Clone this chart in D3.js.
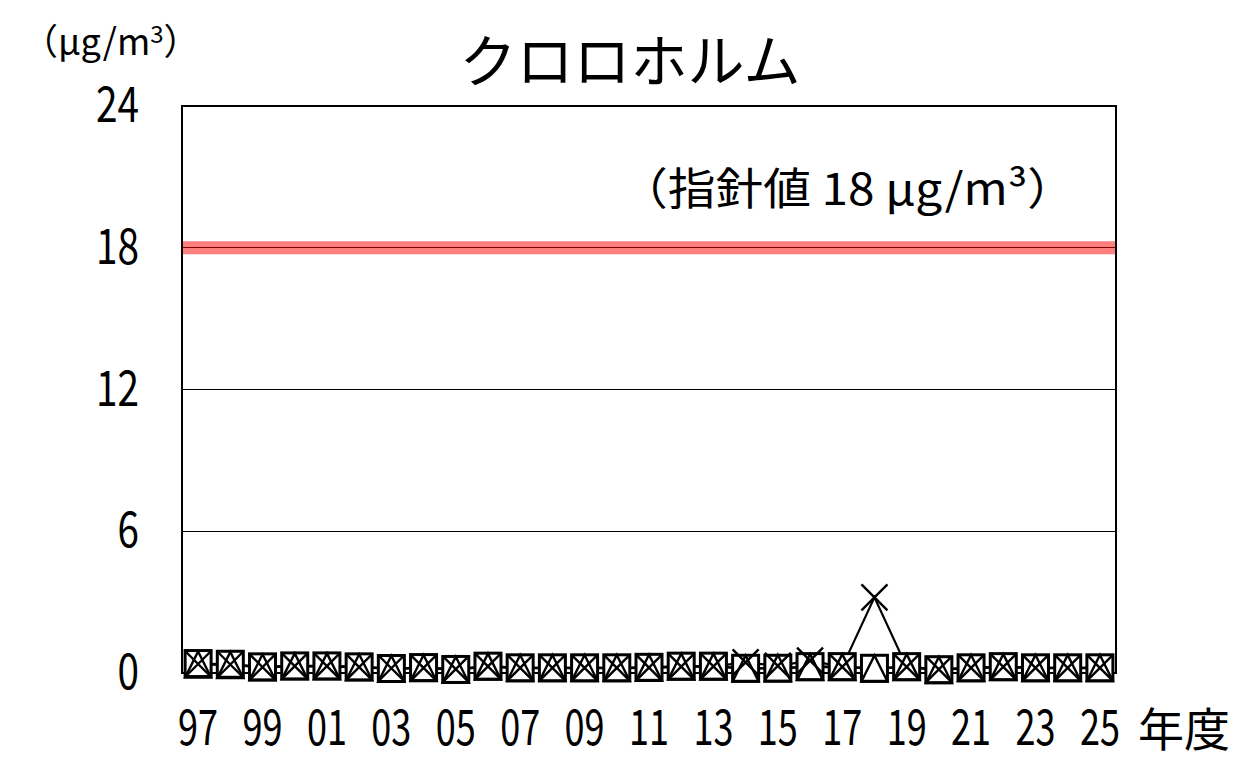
<!DOCTYPE html>
<html>
<head>
<meta charset="utf-8">
<script src="https://cdn.jsdelivr.net/npm/d3@7"></script>
<style>
  body { margin: 0; background: #fff; }
  svg text { font-family: "Noto Sans CJK JP", "Noto Sans", sans-serif; fill: #000; }
</style>
</head>
<body>
<svg id="chart" width="1251" height="781"></svg>
<script>
'use strict';

// fiscal years on the x axis
var years = [1997, 1998, 1999, 2000, 2001, 2002, 2003, 2004, 2005, 2006,
             2007, 2008, 2009, 2010, 2011, 2012, 2013, 2014, 2015, 2016,
             2017, 2018, 2019, 2020, 2021, 2022, 2023, 2024, 2025]

// three monitoring series (µg/m3)
var squareSeries = [0.40, 0.37, 0.26, 0.30, 0.30, 0.26, 0.19, 0.23, 0.15, 0.29,
                    0.22, 0.22, 0.22, 0.22, 0.24, 0.29, 0.29, 0.20, 0.20, 0.27,
                    0.27, 0.20, 0.27, 0.14, 0.22, 0.27, 0.22, 0.22, 0.22]
var crossSeries  = [0.38, 0.36, 0.25, 0.29, 0.29, 0.25, 0.20, 0.22, 0.16, 0.28,
                    0.22, 0.22, 0.22, 0.22, 0.23, 0.27, 0.28, 0.45, 0.30, 0.52,
                    0.26, 3.2, 0.26, 0.15, 0.22, 0.26, 0.22, 0.22, 0.22]
var triangleSeries = [0.36, 0.34, 0.24, 0.28, 0.28, 0.24, 0.18, 0.21, 0.14, 0.27,
                      0.21, 0.21, 0.21, 0.21, 0.22, 0.27, 0.27, 0.19, 0.21, 0.25,
                      0.25, 0.19, 0.25, 0.13, 0.21, 0.25, 0.21, 0.21, 0.21]

var yTicks = [0, 6, 12, 18, 24]
,   guideValue = 18
,   titleText = 'クロロホルム'
,   guideText = '（指針値 18 µg/m³）'
,   xAxisTitle = '年度'

var plot = { left: 182, top: 106, right: 1116, bottom: 673 }

var svg = d3.select('#chart')

var x = d3.scaleBand().domain(years).range([plot.left, plot.right]).padding(0)
,   y = d3.scaleLinear().domain([0, 24]).range([plot.bottom, plot.top])
,   cx = (d) => x(d) + x.bandwidth() / 2

// gridlines
svg.append('g')
  .selectAll('line')
  .data(yTicks.filter((t) => t > 0 && t < 24))
  .enter().append('line')
  .attr('x1', plot.left).attr('x2', plot.right)
  .attr('y1', (d) => y(d)).attr('y2', (d) => y(d))
  .attr('stroke', '#000')
  .attr('stroke-width', 1)
  .attr('shape-rendering', 'crispEdges')

// guideline band
svg.append('line')
  .attr('x1', plot.left).attr('x2', plot.right)
  .attr('y1', y(guideValue)).attr('y2', y(guideValue))
  .attr('stroke', '#ff0000')
  .attr('stroke-opacity', 0.5)
  .attr('stroke-width', 13)

// frame
svg.append('rect')
  .attr('x', plot.left).attr('y', plot.top)
  .attr('width', plot.right - plot.left).attr('height', plot.bottom - plot.top)
  .attr('fill', 'none')
  .attr('stroke', '#000')
  .attr('stroke-width', 2)

// y axis
var yAxis = svg.append('g')
  .attr('transform', 'translate(' + plot.left + ',0)')
  .call(d3.axisLeft(y).tickValues(yTicks).tickSize(0).tickPadding(43))

yAxis.select('.domain').remove()
yAxis.selectAll('text')
  .attr('font-size', 49)
  .attr('font-family', '"Noto Sans CJK JP", sans-serif')
  .attr('textLength', (d) => String(d).length * 21.5)
  .attr('lengthAdjust', 'spacingAndGlyphs')

// x axis
var xAxis = svg.append('g')
  .attr('transform', 'translate(0,' + plot.bottom + ')')
  .call(d3.axisBottom(x)
    .tickSize(0)
    .tickPadding(37)
    .tickFormat((d, i) => i % 2 === 0 ? String(d).slice(2) : ''))

xAxis.select('.domain').remove()
xAxis.selectAll('text')
  .attr('font-size', 49)
  .attr('font-family', '"Noto Sans CJK JP", sans-serif')
  .filter(function() { return this.textContent !== '' })
  .attr('textLength', 40)
  .attr('lengthAdjust', 'spacingAndGlyphs')

// series lines
var line = d3.line()
  .x((d, i) => cx(years[i]))
  .y((d) => y(d))

var seriesList = [squareSeries, crossSeries, triangleSeries]

svg.append('g')
  .selectAll('path')
  .data(seriesList)
  .enter().append('path')
  .attr('d', line)
  .attr('fill', 'none')
  .attr('stroke', '#000')
  .attr('stroke-width', 2.2)

// markers
var half = 13

svg.append('g')
  .selectAll('rect')
  .data(squareSeries)
  .enter().append('rect')
  .attr('x', (d, i) => cx(years[i]) - half)
  .attr('y', (d) => y(d) - half)
  .attr('width', half * 2).attr('height', half * 2)
  .attr('fill', '#fff')
  .attr('stroke', '#000')
  .attr('stroke-width', 3)

svg.append('g')
  .selectAll('path')
  .data(triangleSeries)
  .enter().append('path')
  .attr('transform', (d, i) => 'translate(' + cx(years[i]) + ',' + y(d) + ')')
  .attr('d', 'M0,' + (-half) + 'L' + half + ',' + half + 'L' + (-half) + ',' + half + 'Z')
  .attr('fill', 'none')
  .attr('stroke', '#000')
  .attr('stroke-width', 2.4)

svg.append('g')
  .selectAll('path')
  .data(crossSeries)
  .enter().append('path')
  .attr('transform', (d, i) => 'translate(' + cx(years[i]) + ',' + y(d) + ')')
  .attr('d', 'M' + (-half) + ',' + (-half) + 'L' + half + ',' + half +
             'M' + half + ',' + (-half) + 'L' + (-half) + ',' + half)
  .attr('fill', 'none')
  .attr('stroke', '#000')
  .attr('stroke-width', 2.4)

// texts
svg.append('text')
  .attr('x', 630).attr('y', 82)
  .attr('text-anchor', 'middle')
  .attr('font-size', 57)
  .text(titleText)

var unit = svg.append('text')
  .attr('x', 22).attr('y', 55)
  .attr('font-size', 36)

unit.append('tspan').text('（µg/m')
unit.append('tspan').attr('dy', -12).attr('font-size', 24).text('3')
unit.append('tspan').attr('dy', 12).text('）')

svg.append('text')
  .attr('x', 620).attr('y', 205)
  .attr('font-size', 44)
  .attr('textLength', 455)
  .attr('lengthAdjust', 'spacingAndGlyphs')
  .text(guideText)

svg.append('text')
  .attr('x', 1138).attr('y', 746)
  .attr('font-size', 46)
  .text(xAxisTitle)
</script>
</body>
</html>
